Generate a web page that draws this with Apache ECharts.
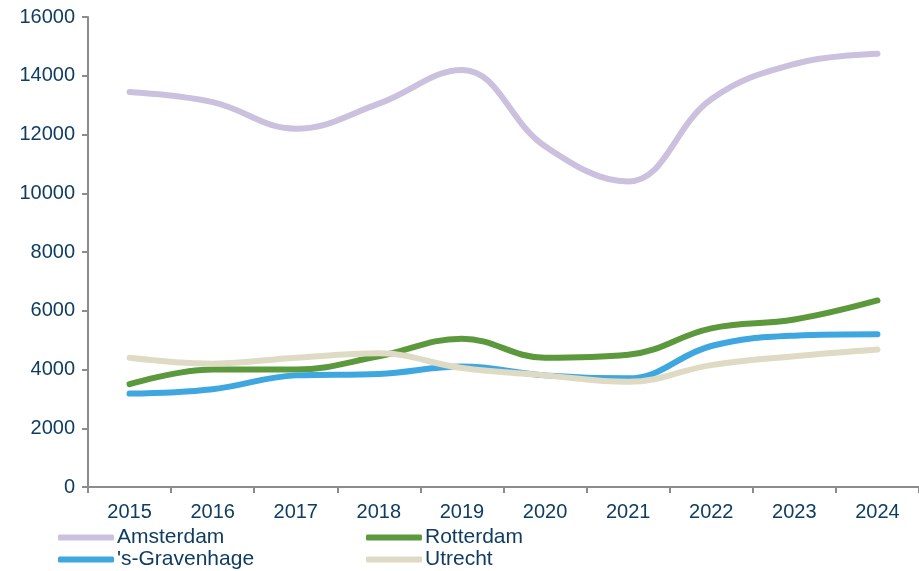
<!DOCTYPE html>
<html>
<head>
<meta charset="utf-8">
<script src="https://cdn.jsdelivr.net/npm/echarts@6/dist/echarts.min.js"></script>
<style>
  html, body { margin: 0; padding: 0; background: #fff; }
  #chart { width: 919px; height: 571px; }
</style>
</head>
<body>
<div id="chart"></div>
<script>
const years = ['2015', '2016', '2017', '2018', '2019', '2020', '2021', '2022', '2023', '2024'];
const amsterdam = [13450, 13100, 12200, 13050, 14200, 11600, 10400, 13200, 14400, 14750];
const rotterdam = [3500, 4000, 4000, 4450, 5050, 4400, 4500, 5400, 5700, 6350];
const denHaag = [3180, 3330, 3800, 3850, 4100, 3800, 3700, 4800, 5150, 5200];
const utrecht = [4400, 4200, 4400, 4550, 4050, 3800, 3580, 4150, 4450, 4680];

const textColor = '#0f3d61';
const font = 'Liberation Sans, Arial, sans-serif';

const chart = echarts.init(document.getElementById('chart'));

function line(name, data, color) {
  return {
    name: name,
    type: 'line',
    data: data,
    smooth: 0.4,
    symbol: 'none',
    lineStyle: { width: 6, color: color, cap: 'round' },
    itemStyle: { color: color }
  };
}

const legendBase = {
  orient: 'vertical',
  top: 527,
  height: 44,
  padding: 0,
  itemWidth: 56,
  itemHeight: 6,
  itemGap: 1,
  icon: 'roundRect',
  textStyle: { color: textColor, fontSize: 21, fontFamily: font, padding: [0, 0, 0, -2] }
};

chart.setOption({
  animation: false,
  grid: { left: 88, right: -4, top: 17, bottom: 84 },
  legend: [
    Object.assign({ left: 58, data: ['Amsterdam', "'s-Gravenhage"] }, legendBase),
    Object.assign({ left: 366, data: ['Rotterdam', 'Utrecht'] }, legendBase)
  ],
  xAxis: {
    type: 'category',
    data: years,
    boundaryGap: true,
    axisLine: { lineStyle: { color: '#8c8c8c', width: 2 } },
    axisTick: { show: true, length: 6, lineStyle: { color: '#8c8c8c', width: 2 } },
    axisLabel: { color: textColor, fontSize: 20, fontFamily: font, margin: 15 }
  },
  yAxis: {
    type: 'value',
    min: 0,
    max: 16000,
    interval: 2000,
    axisLine: { show: true, lineStyle: { color: '#8c8c8c', width: 2 } },
    axisTick: { show: true, length: 6, lineStyle: { color: '#8c8c8c', width: 2 } },
    splitLine: { show: false },
    axisLabel: { color: textColor, fontSize: 20, fontFamily: font, margin: 13, formatter: v => String(v) }
  },
  series: [
    line('Amsterdam', amsterdam, '#cbc1de'),
    line('Rotterdam', rotterdam, '#5b993c'),
    line("'s-Gravenhage", denHaag, '#3fa7e0'),
    line('Utrecht', utrecht, '#dedac3')
  ]
});
</script>
</body>
</html>
